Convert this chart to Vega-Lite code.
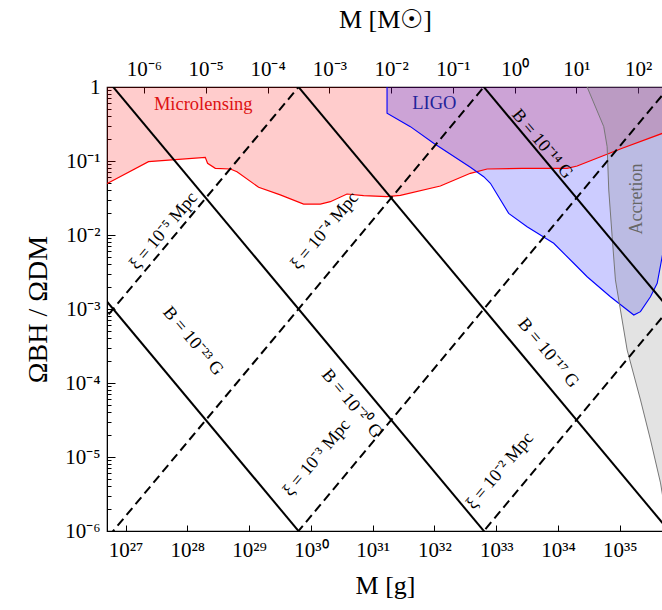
{
  "$schema": "https://vega.github.io/schema/vega-lite/v6.json",
  "width": 556,
  "height": 444,
  "autosize": {"type": "none"},
  "padding": {"left": 107, "top": 87, "right": 0, "bottom": 79},
  "background": "white",
  "config": {
    "view": {"stroke": "black", "strokeWidth": 1.2},
    "font": "Liberation Serif",
    "axis": {"domainColor": "black", "tickColor": "black", "labelColor": "black", "titleColor": "black", "labelFont": "Liberation Serif", "titleFont": "Liberation Serif", "titleFontWeight": "normal", "grid": false, "labelFlush": false, "labelOverlap": false}
  },
  "datasets": {
    "micro": [
      {"M": 4.9e26, "O": 0.0489}, {"M": 2.355e27, "O": 0.098}, {"M": 1.954e28, "O": 0.112}, {"M": 2.128e28, "O": 0.0931},
      {"M": 2.838e28, "O": 0.0796}, {"M": 4.966e28, "O": 0.078}, {"M": 6.368e28, "O": 0.0716}, {"M": 1.426e29, "O": 0.0442},
      {"M": 3.199e29, "O": 0.0348}, {"M": 7.638e29, "O": 0.0262}, {"M": 1.422e30, "O": 0.0262}, {"M": 2.065e30, "O": 0.0282},
      {"M": 3.846e30, "O": 0.0358}, {"M": 7.145e30, "O": 0.034}, {"M": 1.71e31, "O": 0.033}, {"M": 2.812e31, "O": 0.0344},
      {"M": 1.247e32, "O": 0.0459}, {"M": 3.819e32, "O": 0.0682}, {"M": 7.129e32, "O": 0.078}, {"M": 2.63e33, "O": 0.0796},
      {"M": 1.406e34, "O": 0.0796}, {"M": 2.042e34, "O": 0.0855}, {"M": 1.096e35, "O": 0.1486}, {"M": 4.92e35, "O": 0.2366},
      {"M": 5.6e35, "O": 0.25}
    ],
    "ligo": [
      {"i": 0, "M": 1.71e31, "O": 1}, {"i": 1, "M": 1.71e31, "O": 0.4416}, {"i": 2, "M": 4.083e31, "O": 0.2911},
      {"i": 3, "M": 9.727e31, "O": 0.1734}, {"i": 4, "M": 3.819e32, "O": 0.0822}, {"i": 5, "M": 6.281e32, "O": 0.0614},
      {"i": 6, "M": 8.054e32, "O": 0.05}, {"i": 7, "M": 1.592e33, "O": 0.01963}, {"i": 8, "M": 3.162e33, "O": 0.01294},
      {"i": 9, "M": 8.531e33, "O": 0.00773}, {"i": 10, "M": 1.799e34, "O": 0.00415}, {"i": 11, "M": 2.965e34, "O": 0.00273},
      {"i": 12, "M": 7.063e34, "O": 0.001466}, {"i": 13, "M": 1.687e35, "O": 0.00083}, {"i": 14, "M": 2.163e35, "O": 0.00092},
      {"i": 15, "M": 3.141e35, "O": 0.001466}, {"i": 16, "M": 4.036e35, "O": 0.00222}, {"i": 17, "M": 4.92e35, "O": 0.0054},
      {"i": 18, "M": 5.6e35, "O": 0.009}
    ],
    "accr": [
      {"M": 2.965e34, "O": 1}, {"M": 5.508e34, "O": 0.2911}, {"M": 6.252e34, "O": 0.156}, {"M": 6.637e34, "O": 0.0406},
      {"M": 7.534e34, "O": 0.00948}, {"M": 8.511e34, "O": 0.00247}, {"M": 9.638e34, "O": 0.001324}, {"M": 1.318e35, "O": 0.000279},
      {"M": 2.168e35, "O": 5.89e-5}, {"M": 3.148e35, "O": 1.7e-5}, {"M": 4.571e35, "O": 4.46e-6}, {"M": 4.92e35, "O": 3.06e-6},
      {"M": 5.62e35, "O": 1.58e-6}
    ],
    "blines": [
      {"id": "a", "M": 1e26, "O": 6.31e-3}, {"id": "a", "M": 1e36, "O": 6.31e-13},
      {"id": "b", "M": 1e26, "O": 6.31}, {"id": "b", "M": 1e36, "O": 6.31e-10},
      {"id": "c", "M": 1e26, "O": 6310}, {"id": "c", "M": 1e36, "O": 6.31e-7},
      {"id": "d", "M": 1e26, "O": 6.31e6}, {"id": "d", "M": 1e36, "O": 6.31e-4}
    ],
    "xlines": [
      {"id": "x5", "M": 1e26, "O": 1.585e-4}, {"id": "x5", "M": 1e36, "O": 1.585e6},
      {"id": "x4", "M": 1e26, "O": 1.585e-7}, {"id": "x4", "M": 1e36, "O": 1585},
      {"id": "x3", "M": 1e26, "O": 1.585e-10}, {"id": "x3", "M": 1e36, "O": 1.585},
      {"id": "x2", "M": 1e26, "O": 1.585e-13}, {"id": "x2", "M": 1e36, "O": 1.585e-3}
    ],
    "blabelsUp": [
      {"M": 4.67e33, "O": 0.15, "t": "B = 10⁻¹⁴ G"},
      {"M": 5.83e33, "O": 2.25e-4, "t": "B = 10⁻¹⁷ G"},
      {"M": 1.04e28, "O": 3.26e-4, "t": "B = 10⁻²³ G"}
    ],
    "blabelsDown": [
      {"M": 5.45e30, "O": 5.89e-5, "t": "B = 10⁻²⁰ G"}
    ],
    "xlabels": [
      {"M": 5.7e27, "O": 9.1e-3, "t": "ξ = 10⁻⁵ Mpc"},
      {"M": 2.31e30, "O": 9.1e-3, "t": "ξ = 10⁻⁴ Mpc"},
      {"M": 1.71e30, "O": 7.8e-6, "t": "ξ = 10⁻³ Mpc"},
      {"M": 1.58e33, "O": 5.2e-6, "t": "ξ = 10⁻² Mpc"}
    ],
    "mlabel": [{"M": 1.81e28, "O": 0.589, "t": "Microlensing"}],
    "llabel": [{"M": 9.97e31, "O": 0.608, "t": "LIGO"}],
    "alabel": [{"M": 1.9e35, "O": 0.0306, "t": "Accretion"}],
    "msun": [{"m": 1e-6}, {"m": 1e-5}, {"m": 1e-4}, {"m": 1e-3}, {"m": 1e-2}, {"m": 1e-1}, {"m": 1}, {"m": 10}, {"m": 100}]
  },
  "layer": [
    {
      "encoding": {
        "x": {
          "field": "M", "type": "quantitative",
          "scale": {"type": "log", "domain": [5.012e26, 5.012e35], "nice": false},
          "axis": {
            "title": "M  [g]", "titleFontSize": 26, "titlePadding": 12,
            "values": [1e27, 1e28, 1e29, 1e30, 1e31, 1e32, 1e33, 1e34, 1e35],
            "labelExpr": "['10²⁷','10²⁸','10²⁹','10³⁰','10³¹','10³²','10³³','10³⁴','10³⁵'][round(log(datum.value)/LN10)-27]",
            "tickSize": -6, "labelPadding": 14, "labelFontSize": 21
          }
        },
        "y": {
          "field": "O", "type": "quantitative",
          "scale": {"type": "log", "domain": [1e-6, 1], "nice": false},
          "axis": {
            "title": "ΩBH / ΩDM", "titleFontSize": 28, "titlePadding": 12,
            "values": [1e-6, 2e-6, 3e-6, 4e-6, 5e-6, 6e-6, 7e-6, 8e-6, 9e-6, 1e-5, 2e-5, 3e-5, 4e-5, 5e-5, 6e-5, 7e-5, 8e-5, 9e-5, 1e-4, 2e-4, 3e-4, 4e-4, 5e-4, 6e-4, 7e-4, 8e-4, 9e-4, 1e-3, 2e-3, 3e-3, 4e-3, 5e-3, 6e-3, 7e-3, 8e-3, 9e-3, 1e-2, 2e-2, 3e-2, 4e-2, 5e-2, 6e-2, 7e-2, 8e-2, 9e-2, 0.1, 0.2, 0.3, 0.4, 0.5, 0.6, 0.7, 0.8, 0.9, 1],
            "labelExpr": "abs(log(datum.value)/LN10 - round(log(datum.value)/LN10)) < 0.01 ? ['10⁻⁶','10⁻⁵','10⁻⁴','10⁻³','10⁻²','10⁻¹','1'][round(log(datum.value)/LN10)+6] : ''",
            "tickSize": {"condition": {"test": "abs(log(datum.value)/LN10 - round(log(datum.value)/LN10)) < 0.01", "value": -8}, "value": -4},
            "labelPadding": 15, "labelFontSize": 21
          }
        }
      },
      "layer": [
        {"data": {"name": "micro"}, "mark": {"type": "area", "color": "red", "opacity": 0.2, "clip": true}, "encoding": {"y2": {"datum": 1}}},
        {"data": {"name": "ligo"}, "mark": {"type": "area", "color": "blue", "opacity": 0.2, "clip": true}, "encoding": {"y2": {"datum": 1}}},
        {"data": {"name": "accr"}, "mark": {"type": "area", "color": "gray", "opacity": 0.22, "clip": true}, "encoding": {"y2": {"datum": 1}}},
        {"data": {"name": "micro"}, "mark": {"type": "line", "color": "red", "strokeWidth": 1.2, "clip": true}, "encoding": {}},
        {"data": {"name": "ligo"}, "mark": {"type": "line", "color": "blue", "strokeWidth": 1.1, "clip": true}, "encoding": {"order": {"field": "i", "type": "quantitative"}}},
        {"data": {"name": "accr"}, "mark": {"type": "line", "color": "#777777", "strokeWidth": 1, "clip": true}, "encoding": {}},
        {"data": {"name": "blines"}, "mark": {"type": "line", "color": "black", "strokeWidth": 2, "clip": true}, "encoding": {"detail": {"field": "id"}}},
        {"data": {"name": "xlines"}, "mark": {"type": "line", "color": "black", "strokeWidth": 2, "strokeDash": [9, 5], "clip": true}, "encoding": {"detail": {"field": "id"}}},
        {"data": {"name": "blabelsUp"}, "mark": {"type": "text", "font": "Liberation Serif", "fontSize": 18, "angle": 50, "dy": -6, "color": "black"}, "encoding": {"text": {"field": "t"}}},
        {"data": {"name": "blabelsDown"}, "mark": {"type": "text", "font": "Liberation Serif", "fontSize": 18, "angle": 50, "dy": 6, "color": "black"}, "encoding": {"text": {"field": "t"}}},
        {"data": {"name": "xlabels"}, "mark": {"type": "text", "font": "Liberation Serif", "fontSize": 18, "angle": -50, "dy": -11, "color": "black"}, "encoding": {"text": {"field": "t"}}},
        {"data": {"name": "mlabel"}, "mark": {"type": "text", "font": "Liberation Serif", "fontSize": 18.5, "color": "#dd1111"}, "encoding": {"text": {"field": "t"}}},
        {"data": {"name": "llabel"}, "mark": {"type": "text", "font": "Liberation Serif", "fontSize": 18.5, "color": "#22229a"}, "encoding": {"text": {"field": "t"}}},
        {"data": {"name": "alabel"}, "mark": {"type": "text", "font": "Liberation Serif", "fontSize": 18, "angle": -90, "color": "#666666"}, "encoding": {"text": {"field": "t"}}}
      ]
    },
    {
      "data": {"name": "msun"},
      "mark": {"type": "rule", "opacity": 0},
      "encoding": {
        "x": {
          "field": "m", "type": "quantitative",
          "scale": {"type": "log", "domain": [2.52e-7, 252], "nice": false},
          "axis": {
            "orient": "top", "title": "M  [M☉]", "titleFontSize": 26, "titlePadding": 26,
            "values": [1e-6, 1e-5, 1e-4, 1e-3, 1e-2, 0.1, 1, 10, 100],
            "labelExpr": "['10⁻⁶','10⁻⁵','10⁻⁴','10⁻³','10⁻²','10⁻¹','10⁰','10¹','10²'][round(log(datum.value)/LN10)+6]",
            "tickSize": -6, "labelPadding": 14, "labelFontSize": 21
          }
        }
      }
    }
  ],
  "resolve": {"scale": {"x": "independent"}, "axis": {"x": "independent"}}
}
